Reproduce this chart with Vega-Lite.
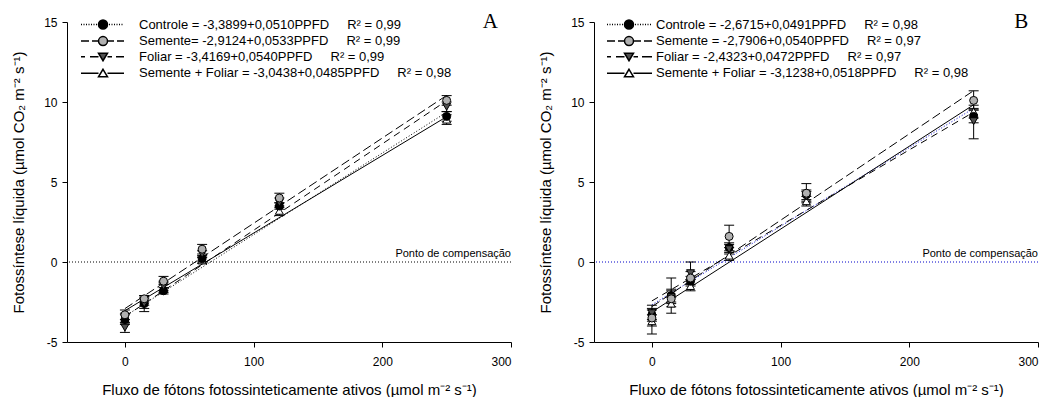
{
  "$schema": "https://vega.github.io/schema/vega-lite/v6.json",
  "background": "white",
  "padding": {"left": 11, "top": 11, "right": 5, "bottom": 5},
  "bounds": "flush",
  "spacing": 83,
  "datasets": {
    "one": [{}],
    "pa": [
      {"t": "Controle", "x": 0, "y": -3.6, "lo": -3.9, "hi": -3.3},
      {"t": "Controle", "x": 15, "y": -2.6, "lo": -2.9, "hi": -2.3},
      {"t": "Controle", "x": 30, "y": -1.8, "lo": -2.0, "hi": -1.6},
      {"t": "Controle", "x": 60, "y": 0.2, "lo": 0.0, "hi": 0.4},
      {"t": "Controle", "x": 120, "y": 3.5, "lo": 3.3, "hi": 3.7},
      {"t": "Controle", "x": 250, "y": 9.1, "lo": 8.8, "hi": 9.4},
      {"t": "Semente", "x": 0, "y": -3.3, "lo": -3.6, "hi": -3.0},
      {"t": "Semente", "x": 15, "y": -2.3, "lo": -2.5, "hi": -2.1},
      {"t": "Semente", "x": 30, "y": -1.2, "lo": -1.4, "hi": -0.9},
      {"t": "Semente", "x": 60, "y": 0.8, "lo": 0.5, "hi": 1.1},
      {"t": "Semente", "x": 120, "y": 4.0, "lo": 3.7, "hi": 4.3},
      {"t": "Semente", "x": 250, "y": 10.1, "lo": 9.8, "hi": 10.4},
      {"t": "Foliar", "x": 0, "y": -4.1, "lo": -4.4, "hi": -3.8},
      {"t": "Foliar", "x": 15, "y": -2.6, "lo": -3.1, "hi": -2.2},
      {"t": "Foliar", "x": 30, "y": -1.5, "lo": -1.8, "hi": -1.2},
      {"t": "Foliar", "x": 60, "y": 0.5, "lo": 0.3, "hi": 0.7},
      {"t": "Foliar", "x": 120, "y": 3.7, "lo": 3.4, "hi": 4.0},
      {"t": "Foliar", "x": 250, "y": 9.7, "lo": 9.4, "hi": 10.0},
      {"t": "Semente + Foliar", "x": 0, "y": -3.5, "lo": -3.8, "hi": -3.2},
      {"t": "Semente + Foliar", "x": 15, "y": -2.4, "lo": -2.7, "hi": -2.1},
      {"t": "Semente + Foliar", "x": 30, "y": -1.6, "lo": -1.9, "hi": -1.3},
      {"t": "Semente + Foliar", "x": 60, "y": 0.1, "lo": -0.1, "hi": 0.3},
      {"t": "Semente + Foliar", "x": 120, "y": 3.2, "lo": 2.9, "hi": 3.5},
      {"t": "Semente + Foliar", "x": 250, "y": 8.9, "lo": 8.6, "hi": 9.2}
    ],
    "pb": [
      {"t": "Controle", "x": 0, "y": -3.3, "lo": -3.7, "hi": -2.9},
      {"t": "Controle", "x": 15, "y": -2.1, "lo": -2.5, "hi": -1.7},
      {"t": "Controle", "x": 30, "y": -1.2, "lo": -1.5, "hi": -0.9},
      {"t": "Controle", "x": 60, "y": 0.9, "lo": 0.6, "hi": 1.2},
      {"t": "Controle", "x": 120, "y": 4.2, "lo": 3.9, "hi": 4.5},
      {"t": "Controle", "x": 250, "y": 9.1, "lo": 8.7, "hi": 9.5},
      {"t": "Semente", "x": 0, "y": -3.5, "lo": -4.0, "hi": -3.0},
      {"t": "Semente", "x": 15, "y": -2.3, "lo": -2.8, "hi": -1.0},
      {"t": "Semente", "x": 30, "y": -1.0, "lo": -1.4, "hi": -0.6},
      {"t": "Semente", "x": 60, "y": 1.6, "lo": 0.9, "hi": 2.3},
      {"t": "Semente", "x": 120, "y": 4.3, "lo": 3.7, "hi": 4.9},
      {"t": "Semente", "x": 250, "y": 10.1, "lo": 9.5, "hi": 10.7},
      {"t": "Foliar", "x": 0, "y": -3.2, "lo": -3.6, "hi": -2.7},
      {"t": "Foliar", "x": 15, "y": -2.2, "lo": -2.6, "hi": -1.8},
      {"t": "Foliar", "x": 30, "y": -0.7, "lo": -1.1, "hi": 0.0},
      {"t": "Foliar", "x": 60, "y": 0.8, "lo": 0.5, "hi": 1.1},
      {"t": "Foliar", "x": 120, "y": 4.1, "lo": 3.8, "hi": 4.4},
      {"t": "Foliar", "x": 250, "y": 8.8, "lo": 7.7, "hi": 9.6},
      {"t": "Semente + Foliar", "x": 0, "y": -3.7, "lo": -4.5, "hi": -3.3},
      {"t": "Semente + Foliar", "x": 15, "y": -2.6, "lo": -3.2, "hi": -2.2},
      {"t": "Semente + Foliar", "x": 30, "y": -1.5, "lo": -1.8, "hi": -1.1},
      {"t": "Semente + Foliar", "x": 60, "y": 0.4, "lo": 0.1, "hi": 0.7},
      {"t": "Semente + Foliar", "x": 120, "y": 3.8, "lo": 3.5, "hi": 4.1},
      {"t": "Semente + Foliar", "x": 250, "y": 9.4, "lo": 9.0, "hi": 9.8}
    ],
    "la": [
      {"t": "Controle", "x": 0, "y": -3.3899},
      {"t": "Controle", "x": 250, "y": 9.3601},
      {"t": "Semente", "x": 0, "y": -2.9124},
      {"t": "Semente", "x": 250, "y": 10.4126},
      {"t": "Foliar", "x": 0, "y": -3.4169},
      {"t": "Foliar", "x": 250, "y": 10.0831},
      {"t": "Semente + Foliar", "x": 0, "y": -3.0438},
      {"t": "Semente + Foliar", "x": 250, "y": 9.0812}
    ],
    "lb": [
      {"t": "Controle", "x": 0, "y": -2.6715},
      {"t": "Controle", "x": 250, "y": 9.6035},
      {"t": "Semente", "x": 0, "y": -2.7906},
      {"t": "Semente", "x": 250, "y": 10.7094},
      {"t": "Foliar", "x": 0, "y": -2.4323},
      {"t": "Foliar", "x": 250, "y": 9.3677},
      {"t": "Semente + Foliar", "x": 0, "y": -3.1238},
      {"t": "Semente + Foliar", "x": 250, "y": 9.8262}
    ]
  },
  "config": {
    "font": "Liberation Sans",
    "view": {"stroke": null},
    "axis": {
      "grid": false, "domainColor": "black", "tickColor": "black", "labelColor": "black", "titleColor": "black",
      "labelFont": "Liberation Sans", "titleFont": "Liberation Sans", "labelFontSize": 12, "titleFontSize": 15,
      "titleFontWeight": "normal", "tickSize": 5, "domainWidth": 1, "tickWidth": 1, "labelExpr": "datum.value + ''"
    },
    "axisX": {"labelPadding": 9, "titlePadding": 15},
    "axisY": {"labelPadding": 5, "titlePadding": 17},
    "legend": {
      "orient": "none", "title": null, "symbolSize": 100, "symbolOpacity": 1, "labelFont": "Liberation Sans",
      "labelFontSize": 13, "labelColor": "black", "rowPadding": 1.6, "padding": 0, "labelLimit": 600
    }
  },
  "resolve": {
    "scale": {"shape": "independent", "fill": "independent"},
    "legend": {"shape": "independent", "fill": "independent"}
  },
  "hconcat": [
    {
      "width": 444,
      "height": 320,
      "layer": [
        {
          "data": {"name": "one"},
          "mark": {"type": "rule", "color": "black", "strokeDash": [1, 2], "strokeWidth": 1},
          "encoding": {"y": {"datum": 0, "type": "quantitative"}}
        },
        {
          "encoding": {
            "x": {"field": "x", "type": "quantitative", "scale": {"domain": [-45, 300], "nice": false, "zero": false}, "axis": {"values": [0, 100, 200, 300]}, "title": "Fluxo de fótons fotossinteticamente ativos (µmol m⁻² s⁻¹)"},
            "y": {"field": "y", "type": "quantitative", "scale": {"domain": [-5, 15], "nice": false, "zero": false}, "axis": {"values": [-5, 0, 5, 10, 15]}, "title": "Fotossíntese líquida (µmol CO₂ m⁻² s⁻¹)"}
          },
          "layer": [
            {"data": {"name": "la"}, "transform": [{"filter": "datum.t == 'Controle'"}], "mark": {"type": "line", "strokeWidth": 1, "color": "black", "strokeDash": [1, 2]}},
            {"data": {"name": "la"}, "transform": [{"filter": "datum.t == 'Semente'"}], "mark": {"type": "line", "strokeWidth": 1, "color": "black", "strokeDash": [9, 4]}},
            {"data": {"name": "la"}, "transform": [{"filter": "datum.t == 'Foliar'"}], "mark": {"type": "line", "strokeWidth": 1, "color": "black", "strokeDash": [7, 5]}},
            {"data": {"name": "la"}, "transform": [{"filter": "datum.t == 'Semente + Foliar'"}], "mark": {"type": "line", "strokeWidth": 1, "color": "black"}},
            {
              "data": {"name": "pa"},
              "mark": {"type": "rule", "color": "black", "strokeWidth": 1},
              "encoding": {
                "y": {"field": "lo", "type": "quantitative", "scale": {"domain": [-5, 15], "nice": false, "zero": false}, "title": "Fotossíntese líquida (µmol CO₂ m⁻² s⁻¹)"},
                "y2": {"field": "hi"}
              }
            },
            {
              "data": {"name": "pa"},
              "mark": {"type": "tick", "orient": "horizontal", "size": 10, "thickness": 1, "color": "black", "opacity": 1},
              "encoding": {"y": {"field": "lo", "type": "quantitative", "scale": {"domain": [-5, 15], "nice": false, "zero": false}, "title": "Fotossíntese líquida (µmol CO₂ m⁻² s⁻¹)"}}
            },
            {
              "data": {"name": "pa"},
              "mark": {"type": "tick", "orient": "horizontal", "size": 10, "thickness": 1, "color": "black", "opacity": 1},
              "encoding": {"y": {"field": "hi", "type": "quantitative", "scale": {"domain": [-5, 15], "nice": false, "zero": false}, "title": "Fotossíntese líquida (µmol CO₂ m⁻² s⁻¹)"}}
            },
            {
              "data": {"name": "pa"},
              "transform": [{"filter": "datum.t == 'Semente + Foliar'"}],
              "mark": {"type": "point", "shape": "triangle-up", "filled": true, "fill": "#ffffff", "stroke": "black", "strokeWidth": 1, "size": 64, "opacity": 1}
            },
            {
              "data": {"name": "pa"},
              "transform": [{"filter": "datum.t == 'Controle'"}],
              "mark": {"type": "point", "shape": "circle", "filled": true, "fill": "#000000", "stroke": "black", "strokeWidth": 1, "size": 64, "opacity": 1}
            },
            {
              "data": {"name": "pa"},
              "transform": [{"filter": "datum.t == 'Foliar'"}],
              "mark": {"type": "point", "shape": "triangle-down", "filled": true, "fill": "#505050", "stroke": "black", "strokeWidth": 1, "size": 64, "opacity": 1}
            },
            {
              "data": {"name": "pa"},
              "transform": [{"filter": "datum.t == 'Semente'"}],
              "mark": {"type": "point", "shape": "circle", "filled": true, "fill": "#b0b0b0", "stroke": "black", "strokeWidth": 1, "size": 64, "opacity": 1}
            },
            {
              "data": {"name": "pa"},
              "mark": {"type": "point", "filled": true, "stroke": "black", "strokeWidth": 1, "size": 100, "opacity": 0},
              "encoding": {
                "shape": {"field": "t", "type": "nominal", "scale": {"domain": ["Controle", "Semente", "Foliar", "Semente + Foliar"], "range": [
                  "M-1,0h0.2M-0.5,0h0.2M0,0h0.2M0.5,0h0.2M1,0h0.2M1.5,0h0.2M2,0h0.2M4.6,0h0.2M5.1,0h0.2M5.6,0h0.2M6.1,0h0.2M6.6,0h0.2M7.1,0h0.2M4.3,0A0.9,0.9 0 1,1 2.5,0A0.9,0.9 0 1,1 4.3,0Z",
                  "M-1,0H0.6M1.2,0H2.5M4.3,0H5.6M6.2,0H7.6M4.3,0A0.9,0.9 0 1,1 2.5,0A0.9,0.9 0 1,1 4.3,0Z",
                  "M-1,0H-0.2M0.8,0H2.5M4.3,0H5.2M6,0H7.6M2.5,-0.7H4.3L3.4,0.8Z",
                  "M-1,0H2.5M4.3,0H7.6M3.4,-0.8L4.3,0.7H2.5Z"
                ]},
                  "legend": {"legendX": 12.5, "legendY": -4, "labelOffset": 46.5, "encode": {"symbols": {"update": {"stroke": {"value": "black"}, "strokeWidth": {"value": 1}}}}, "labelExpr": "datum.label == 'Controle' ? 'Controle = -3,3899+0,0510PPFD\u00a0\u00a0\u00a0\u00a0\u00a0R² = 0,99' : datum.label == 'Semente' ? 'Semente= -2,9124+0,0533PPFD\u00a0\u00a0\u00a0\u00a0\u00a0R² = 0,99' : datum.label == 'Foliar' ? 'Foliar = -3,4169+0,0540PPFD\u00a0\u00a0\u00a0\u00a0\u00a0R² = 0,99' : 'Semente + Foliar = -3,0438+0,0485PPFD\u00a0\u00a0\u00a0\u00a0\u00a0R² = 0,98'"}},
                "fill": {"field": "t", "type": "nominal", "scale": {"domain": ["Controle", "Semente", "Foliar", "Semente + Foliar"], "range": ["#000000", "#b0b0b0", "#505050", "#ffffff"]},
                  "legend": {"legendX": 12.5, "legendY": -4, "labelOffset": 46.5, "encode": {"symbols": {"update": {"stroke": {"value": "black"}, "strokeWidth": {"value": 1}}}}, "labelExpr": "datum.label == 'Controle' ? 'Controle = -3,3899+0,0510PPFD\u00a0\u00a0\u00a0\u00a0\u00a0R² = 0,99' : datum.label == 'Semente' ? 'Semente= -2,9124+0,0533PPFD\u00a0\u00a0\u00a0\u00a0\u00a0R² = 0,99' : datum.label == 'Foliar' ? 'Foliar = -3,4169+0,0540PPFD\u00a0\u00a0\u00a0\u00a0\u00a0R² = 0,99' : 'Semente + Foliar = -3,0438+0,0485PPFD\u00a0\u00a0\u00a0\u00a0\u00a0R² = 0,98'"}}
              }
            }
          ]
        },
        {
          "data": {"name": "one"},
          "mark": {"type": "text", "align": "right", "baseline": "bottom", "dy": -3, "fontSize": 11, "font": "Liberation Sans", "color": "black"},
          "encoding": {
            "x": {"datum": 300, "type": "quantitative"},
            "y": {"datum": 0, "type": "quantitative"},
            "text": {"value": "Ponto de compensação"}
          }
        },
        {
          "data": {"name": "one"},
          "mark": {"type": "text", "align": "center", "baseline": "middle", "fontSize": 21, "font": "Liberation Serif", "color": "black"},
          "encoding": {
            "x": {"datum": 284, "type": "quantitative"},
            "y": {"datum": 15, "type": "quantitative"},
            "text": {"value": "A"}
          }
        }
      ]
    },
    {
      "width": 444,
      "height": 320,
      "layer": [
        {
          "data": {"name": "one"},
          "mark": {"type": "rule", "color": "#0000c8", "strokeDash": [1, 2], "strokeWidth": 1},
          "encoding": {"y": {"datum": 0, "type": "quantitative"}}
        },
        {
          "encoding": {
            "x": {"field": "x", "type": "quantitative", "scale": {"domain": [-45, 300], "nice": false, "zero": false}, "axis": {"values": [0, 100, 200, 300]}, "title": "Fluxo de fótons fotossinteticamente ativos (µmol m⁻² s⁻¹)"},
            "y": {"field": "y", "type": "quantitative", "scale": {"domain": [-5, 15], "nice": false, "zero": false}, "axis": {"values": [-5, 0, 5, 10, 15]}, "title": "Fotossíntese líquida (µmol CO₂ m⁻² s⁻¹)"}
          },
          "layer": [
            {"data": {"name": "lb"}, "transform": [{"filter": "datum.t == 'Controle'"}], "mark": {"type": "line", "strokeWidth": 1, "color": "#0000c8", "strokeDash": [1, 2]}},
            {"data": {"name": "lb"}, "transform": [{"filter": "datum.t == 'Semente'"}], "mark": {"type": "line", "strokeWidth": 1, "color": "black", "strokeDash": [9, 4]}},
            {"data": {"name": "lb"}, "transform": [{"filter": "datum.t == 'Foliar'"}], "mark": {"type": "line", "strokeWidth": 1, "color": "black", "strokeDash": [7, 5]}},
            {"data": {"name": "lb"}, "transform": [{"filter": "datum.t == 'Semente + Foliar'"}], "mark": {"type": "line", "strokeWidth": 1, "color": "black"}},
            {
              "data": {"name": "pb"},
              "mark": {"type": "rule", "color": "black", "strokeWidth": 1},
              "encoding": {
                "y": {"field": "lo", "type": "quantitative", "scale": {"domain": [-5, 15], "nice": false, "zero": false}, "title": "Fotossíntese líquida (µmol CO₂ m⁻² s⁻¹)"},
                "y2": {"field": "hi"}
              }
            },
            {
              "data": {"name": "pb"},
              "mark": {"type": "tick", "orient": "horizontal", "size": 10, "thickness": 1, "color": "black", "opacity": 1},
              "encoding": {"y": {"field": "lo", "type": "quantitative", "scale": {"domain": [-5, 15], "nice": false, "zero": false}, "title": "Fotossíntese líquida (µmol CO₂ m⁻² s⁻¹)"}}
            },
            {
              "data": {"name": "pb"},
              "mark": {"type": "tick", "orient": "horizontal", "size": 10, "thickness": 1, "color": "black", "opacity": 1},
              "encoding": {"y": {"field": "hi", "type": "quantitative", "scale": {"domain": [-5, 15], "nice": false, "zero": false}, "title": "Fotossíntese líquida (µmol CO₂ m⁻² s⁻¹)"}}
            },
            {
              "data": {"name": "pb"},
              "transform": [{"filter": "datum.t == 'Semente + Foliar'"}],
              "mark": {"type": "point", "shape": "triangle-up", "filled": true, "fill": "#ffffff", "stroke": "black", "strokeWidth": 1, "size": 64, "opacity": 1}
            },
            {
              "data": {"name": "pb"},
              "transform": [{"filter": "datum.t == 'Controle'"}],
              "mark": {"type": "point", "shape": "circle", "filled": true, "fill": "#000000", "stroke": "black", "strokeWidth": 1, "size": 64, "opacity": 1}
            },
            {
              "data": {"name": "pb"},
              "transform": [{"filter": "datum.t == 'Foliar'"}],
              "mark": {"type": "point", "shape": "triangle-down", "filled": true, "fill": "#505050", "stroke": "black", "strokeWidth": 1, "size": 64, "opacity": 1}
            },
            {
              "data": {"name": "pb"},
              "transform": [{"filter": "datum.t == 'Semente'"}],
              "mark": {"type": "point", "shape": "circle", "filled": true, "fill": "#b0b0b0", "stroke": "black", "strokeWidth": 1, "size": 64, "opacity": 1}
            },
            {
              "data": {"name": "pb"},
              "mark": {"type": "point", "filled": true, "stroke": "black", "strokeWidth": 1, "size": 100, "opacity": 0},
              "encoding": {
                "shape": {"field": "t", "type": "nominal", "scale": {"domain": ["Controle", "Semente", "Foliar", "Semente + Foliar"], "range": [
                  "M-1,0h0.2M-0.5,0h0.2M0,0h0.2M0.5,0h0.2M1,0h0.2M1.5,0h0.2M2,0h0.2M4.6,0h0.2M5.1,0h0.2M5.6,0h0.2M6.1,0h0.2M6.6,0h0.2M7.1,0h0.2M7.6,0h0.2M4.3,0A0.9,0.9 0 1,1 2.5,0A0.9,0.9 0 1,1 4.3,0Z",
                  "M-1,0H0.6M1.2,0H2.5M4.3,0H5.8M6.4,0H8M4.3,0A0.9,0.9 0 1,1 2.5,0A0.9,0.9 0 1,1 4.3,0Z",
                  "M-1,0H-0.2M0.8,0H2.5M4.3,0H5.2M6,0H8M2.5,-0.7H4.3L3.4,0.8Z",
                  "M-1,0H2.5M4.3,0H8M3.4,-0.8L4.3,0.7H2.5Z"
                ]},
                  "legend": {"legendX": 11.5, "legendY": -4, "labelOffset": 37.5, "encode": {"symbols": {"update": {"stroke": {"value": "black"}, "strokeWidth": {"value": 1}}}}, "labelExpr": "datum.label == 'Controle' ? 'Controle = -2,6715+0,0491PPFD\u00a0\u00a0\u00a0\u00a0\u00a0R² = 0,98' : datum.label == 'Semente' ? 'Semente = -2,7906+0,0540PPFD\u00a0\u00a0\u00a0\u00a0\u00a0R² = 0,97' : datum.label == 'Foliar' ? 'Foliar = -2,4323+0,0472PPFD\u00a0\u00a0\u00a0\u00a0\u00a0R² = 0,97' : 'Semente + Foliar = -3,1238+0,0518PPFD\u00a0\u00a0\u00a0\u00a0\u00a0R² = 0,98'"}},
                "fill": {"field": "t", "type": "nominal", "scale": {"domain": ["Controle", "Semente", "Foliar", "Semente + Foliar"], "range": ["#000000", "#b0b0b0", "#505050", "#ffffff"]},
                  "legend": {"legendX": 11.5, "legendY": -4, "labelOffset": 37.5, "encode": {"symbols": {"update": {"stroke": {"value": "black"}, "strokeWidth": {"value": 1}}}}, "labelExpr": "datum.label == 'Controle' ? 'Controle = -2,6715+0,0491PPFD\u00a0\u00a0\u00a0\u00a0\u00a0R² = 0,98' : datum.label == 'Semente' ? 'Semente = -2,7906+0,0540PPFD\u00a0\u00a0\u00a0\u00a0\u00a0R² = 0,97' : datum.label == 'Foliar' ? 'Foliar = -2,4323+0,0472PPFD\u00a0\u00a0\u00a0\u00a0\u00a0R² = 0,97' : 'Semente + Foliar = -3,1238+0,0518PPFD\u00a0\u00a0\u00a0\u00a0\u00a0R² = 0,98'"}}
              }
            }
          ]
        },
        {
          "data": {"name": "one"},
          "mark": {"type": "text", "align": "right", "baseline": "bottom", "dy": -3, "fontSize": 11, "font": "Liberation Sans", "color": "black"},
          "encoding": {
            "x": {"datum": 300, "type": "quantitative"},
            "y": {"datum": 0, "type": "quantitative"},
            "text": {"value": "Ponto de compensação"}
          }
        },
        {
          "data": {"name": "one"},
          "mark": {"type": "text", "align": "center", "baseline": "middle", "fontSize": 21, "font": "Liberation Serif", "color": "black"},
          "encoding": {
            "x": {"datum": 287, "type": "quantitative"},
            "y": {"datum": 15, "type": "quantitative"},
            "text": {"value": "B"}
          }
        }
      ]
    }
  ]
}
